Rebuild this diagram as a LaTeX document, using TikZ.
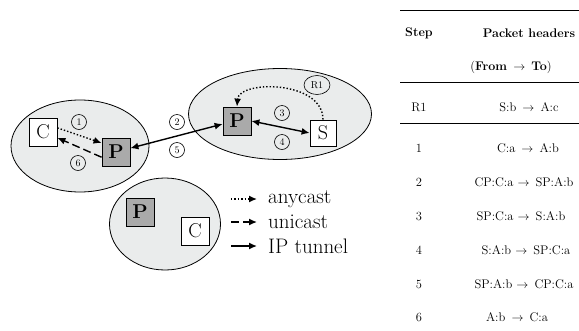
\documentclass[tikz,border=0pt]{standalone}
\usetikzlibrary{arrows.meta,shapes.geometric}

\definecolor{zonegray}{RGB}{234,236,236}
\definecolor{proxygray}{RGB}{170,170,170}

\tikzset{
    zone/.style={draw, ellipse, fill=zonegray, line width=0.8pt, inner sep=0pt},
    hostbox/.style={draw, fill=white, line width=0.8pt, minimum size=28pt, inner sep=0pt, font=\fontsize{20}{24}\selectfont},
    proxybox/.style={hostbox, fill=proxygray, font=\fontsize{20}{24}\selectfont\bfseries},
    stepno/.style={draw, circle, line width=0.6pt, minimum size=15pt, inner sep=0pt, font=\fontsize{10}{12}\selectfont},
    anycastline/.style={dotted, line width=1.4pt, -{Latex[length=8pt,width=7pt]}},
    unicastline/.style={dash pattern=on 8pt off 4pt, line width=1.4pt, -{Latex[length=8pt,width=7pt]}},
    tunnelline/.style={line width=1.4pt, {Latex[length=8pt,width=7pt]}-{Latex[length=8pt,width=7pt]}},
    legendtext/.style={anchor=west, inner sep=0pt, font=\fontsize{21}{25}\selectfont},
    cell/.style={inner sep=0pt, font=\fontsize{12.5}{15}\selectfont},
    tablerule/.style={line width=0.9pt},
}

\begin{document}
\begin{tikzpicture}[x=1pt, y=-1pt]
                \useasboundingbox (0,0) rectangle (579,330);

                % zones
                \node[zone, minimum width=138pt, minimum height=92pt] (zleft) at (80,146) {};
                \node[zone, minimum width=183pt, minimum height=91pt] (ztop) at (280,114) {};
                \node[zone, minimum width=111pt, minimum height=92pt] (zbottom) at (165,224) {};

                % hosts and proxies
                \node[hostbox] (cl) at (43,132) {C};
                \node[proxybox] (pl) at (116,152) {P};
                \node[proxybox] (pt) at (237,121) {P};
                \node[hostbox, minimum size=26pt] (srv) at (323,133) {S};
                \node[proxybox] (pb) at (140,212) {P};
                \node[hostbox] (cb) at (195,231) {C};

                % step numbers
                \node[stepno] (s1) at (79,122) {1};
                \node[stepno] (s6) at (78,163) {6};
                \node[stepno] (s2) at (177,122) {2};
                \node[stepno] (s5) at (177,150) {5};
                \node[stepno] (s3) at (282,113) {3};
                \node[stepno] (s4) at (282,142) {4};
                \node[stepno, ellipse, minimum width=26pt, minimum height=19pt] (sr1) at (317,85) {R1};

                % connectors
                \draw[anycastline] (cl.16) -- (pl.148);
                \draw[unicastline] (pl.200) -- (cl.-22);
                \draw[tunnelline] (pl.15) -- (pt.192);
                \draw[tunnelline] (pt.east) -- (srv.west);
                \draw[anycastline] (srv.north) .. controls (323,80) and (239,80) .. (pt.north);

                % legend
                \coordinate (anyA) at (231,199);
                \coordinate (anyB) at (257,199);
                \coordinate (uniA) at (231,222);
                \coordinate (uniB) at (257,222);
                \coordinate (tunA) at (231,246);
                \coordinate (tunB) at (257,246);
                \draw[anycastline] (anyA) -- (anyB);
                \draw[unicastline] (uniA) -- (uniB);
                \draw[-{Latex[length=8pt,width=7pt]}, line width=1.4pt] (tunA) -- (tunB);
                \node[legendtext] (lany) at (268,199) {anycast};
                \node[legendtext] (luni) at (268,222) {unicast};
                \node[legendtext] (ltun) at (268,246) {IP tunnel};

                % table
                \draw[tablerule] (400,10) -- (579,10);
                \draw[tablerule] (400,82) -- (579,82);
                \draw[tablerule] (400,123) -- (579,123);
                \node[cell] (hstep) at (419,33) {\textbf{Step}};
                \node[cell] (hpkt) at (529,33) {\textbf{Packet headers}};
                \node[cell] (hdir) at (511,67) {(\textbf{From} $\,\rightarrow\,$ \textbf{To})};
                \node[cell] (tR) at (419,107) {R1};
                \node[cell] (hR) at (529,107) {S:b $\,\rightarrow\,$ A:c};
                \node[cell] (t1) at (419,148) {1};
                \node[cell] (h1) at (528,148) {C:a $\,\rightarrow\,$ A:b};
                \node[cell] (t2) at (419,182) {2};
                \node[cell] (h2) at (524,182) {CP:C:a $\rightarrow\,$ SP:A:b};
                \node[cell] (t3) at (419,216) {3};
                \node[cell] (h3) at (521,216) {SP:C:a $\rightarrow\,$ S:A:b};
                \node[cell] (t4) at (419,250) {4};
                \node[cell] (h4) at (526,250) {S:A:b $\rightarrow\,$ SP:C:a};
                \node[cell] (t5) at (419,284) {5};
                \node[cell] (h5) at (524,284) {SP:A:b $\rightarrow\,$ CP:C:a};
                \node[cell] (t6) at (419,317) {6};
                \node[cell] (h6) at (517,317) {A:b $\,\rightarrow\,$ C:a};
            \end{tikzpicture}
\end{document}
